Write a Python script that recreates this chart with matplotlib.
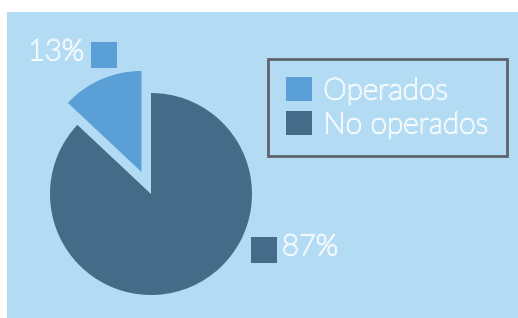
import matplotlib
matplotlib.use("Agg")
import matplotlib.pyplot as plt
import matplotlib.patheffects as pe
from matplotlib.patches import Rectangle, Patch

### data ###################################################################
categories = ["Operados", "No operados"]
shares = [13, 87]
colors = ["#5a9fd6", "#456b88"]

### style ##################################################################
bg = "#b3dbf3"
font = "Lato"
hollow = [pe.withStroke(linewidth=1.1, foreground="white")]

W, H = 518, 318
fig = plt.figure(figsize=(W / 100, H / 100), dpi=100, facecolor="white")
# axes in pixel units, y pointing up
ax = fig.add_axes([0, 0, 1, 1])

ax.add_patch(Rectangle((7, 0), W - 7, H - 12, facecolor=bg, edgecolor="none", zorder=0))

wedges, _ = ax.pie(shares, colors=colors, startangle=90, counterclock=True,
                   radius=101, center=(151, H - 194), explode=[24, 0],
                   wedgeprops=dict(linewidth=0))

# percent labels with a small colour key next to them
label_pos = [(56, H - 52), (310, H - 247)]
key_pos = [(91, H - 68), (251, H - 263)]
for i, v in enumerate(shares):
    ax.text(label_pos[i][0], label_pos[i][1], str(v) + "%", fontsize=21,
            family=font, weight="light", color=bg, ha="center", va="center",
            path_effects=hollow)
    ax.add_patch(Rectangle(key_pos[i], 26, 26, facecolor=colors[i], edgecolor="none"))

ax.set_xlim(0, W)
ax.set_ylim(0, H)
ax.set_aspect("auto")
ax.axis("off")

handles = [Patch(facecolor=c, edgecolor="none") for c in colors]
leg = ax.legend(handles, categories, loc="upper left",
                bbox_to_anchor=(268 / W, 1 - 59 / H), bbox_transform=fig.transFigure,
                borderaxespad=0, frameon=True, fancybox=False,
                prop=dict(family=font, size=21.5, weight="light"),
                handlelength=0.87, handleheight=0.87, handletextpad=0.38,
                labelspacing=0.22, borderpad=0.6)
leg.get_frame().set_facecolor(bg)
leg.get_frame().set_edgecolor("#474747")
leg.get_frame().set_linewidth(2)
for t in leg.get_texts():
    t.set_color(bg)
    t.set_path_effects(hollow)

fig.savefig("out.png", dpi=100, facecolor="white")
